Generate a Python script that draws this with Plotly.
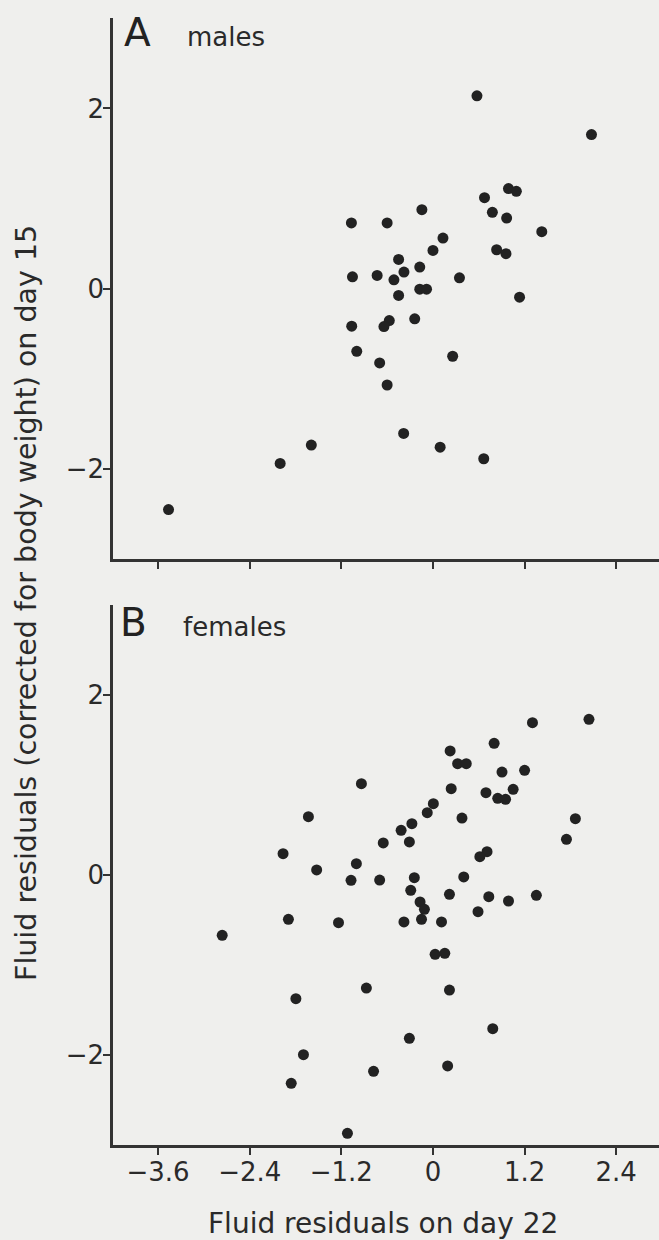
import plotly.graph_objects as go

# ---------------- data ----------------
males_x = [0.576, 2.076, 0.989, 1.092, 0.675, -0.145, 0.778, 0.965, -1.068, -0.600,
           1.425, 0.131, 0.000, 0.834, 0.956, -0.450, -0.173, -0.380, -1.054, -0.731,
           -0.511, 0.347, -0.173, -0.084, -0.450, 1.134, -1.064, -0.572, -0.642, -0.239,
           -0.998, 0.258, -0.698, -0.600, -0.384, -1.593, 0.094, 0.665, -2.001, -3.463]
males_y = [2.14, 1.711, 1.111, 1.081, 1.011, 0.878, 0.848, 0.785, 0.730, 0.730,
           0.633, 0.563, 0.426, 0.433, 0.389, 0.326, 0.241, 0.185, 0.133, 0.148,
           0.100, 0.122, -0.004, -0.004, -0.074, -0.093, -0.415, -0.352, -0.419, -0.333,
           -0.693, -0.748, -0.822, -1.067, -1.604, -1.733, -1.756, -1.885, -1.937, -2.448]

females_x = [2.043, 1.303, 0.801, 0.225, 0.323, 0.436, 0.904, 1.200, -0.937, 0.239,
             0.694, 1.050, 0.848, 0.951, 0.005, -0.075, -1.631, 0.380, 1.865, -0.276,
             -0.417, -0.309, -0.651, 1.748, -1.963, 0.708, 0.614, -1.003, -1.523, -1.073,
             -0.698, -0.244, 0.403, -0.291, 0.216, 0.731, 0.989, 1.354, -0.169, -0.112,
             0.590, -1.893, -1.237, -0.380, -0.150, 0.112, -2.760, 0.028, 0.155, -0.872,
             0.216, -1.795, 0.783, -0.309, -1.696, 0.192, -0.778, -1.856, -1.120]
females_y = [1.730, 1.693, 1.463, 1.378, 1.237, 1.237, 1.144, 1.163, 1.015, 0.959,
             0.915, 0.952, 0.852, 0.841, 0.793, 0.693, 0.648, 0.633, 0.626, 0.570,
             0.496, 0.367, 0.356, 0.396, 0.237, 0.259, 0.204, 0.126, 0.056, -0.059,
             -0.056, -0.030, -0.022, -0.170, -0.215, -0.241, -0.289, -0.226, -0.300, -0.381,
             -0.407, -0.493, -0.530, -0.522, -0.493, -0.522, -0.670, -0.881, -0.870, -1.256,
             -1.278, -1.374, -1.707, -1.815, -1.996, -2.122, -2.181, -2.315, -2.870]

x_ticks = [-3.6, -2.4, -1.2, 0, 1.2, 2.4]
x_ticklabels = ["\u22123.6", "\u22122.4", "\u22121.2", "0", "1.2", "2.4"]
y_ticks = [-2, 0, 2]
y_ticklabels = ["\u22122", "0", "2"]

x_title = "Fluid residuals on day 22"
y_title = "Fluid residuals (corrected for body weight) on day 15"
panel_letters = ["A", "B"]
panel_names = ["males", "females"]

# ---------------- layout helpers ----------------
W, H = 659, 1240
def px(xp):
    return xp / W
def py(yp):
    return (H - yp) / H

BG = "#efefed"
INK = "#222222"
FONT = "DejaVu Sans, Liberation Sans, Arial, sans-serif"
TICKFONT = dict(family=FONT, size=26, color="#2a2a2a")

fig = go.Figure()
fig.add_trace(go.Scatter(x=males_x, y=males_y, mode="markers",
                         marker=dict(size=11, color=INK), xaxis="x", yaxis="y",
                         showlegend=False, hoverinfo="skip"))
fig.add_trace(go.Scatter(x=females_x, y=females_y, mode="markers",
                         marker=dict(size=11, color=INK), xaxis="x2", yaxis="y2",
                         showlegend=False, hoverinfo="skip"))

xdom = [px(113), 1.0]
xr = [-4.19, 2.96]
yr = [-3.0, 3.0]

common_x = dict(range=xr, domain=xdom, tickmode="array", tickvals=x_ticks,
                ticks="outside", ticklen=7, tickwidth=2, tickcolor="#333",
                showline=True, linecolor="#333", linewidth=2.5, showgrid=False,
                zeroline=False, fixedrange=True)
common_y = dict(range=yr, tickmode="array", tickvals=y_ticks, ticktext=y_ticklabels,
                ticks="outside", ticklen=7, tickwidth=2, tickcolor="#333",
                showline=True, linecolor="#333", linewidth=2.5, showgrid=False,
                zeroline=False, tickfont=TICKFONT, fixedrange=True,
                ticklabelstandoff=-6)

fig.update_layout(
    width=W, height=H,
    margin=dict(l=0, r=0, t=0, b=0),
    paper_bgcolor=BG, plot_bgcolor=BG,
    xaxis=dict(common_x, anchor="y", showticklabels=False),
    yaxis=dict(common_y, anchor="x", domain=[py(559.3), py(18.3)]),
    xaxis2=dict(common_x, anchor="y2", ticktext=x_ticklabels, tickfont=TICKFONT,
                ticklabelstandoff=-5),
    yaxis2=dict(common_y, anchor="x2", domain=[py(1145), py(605)]),
)

ann = []
# axis titles
ann.append(dict(text=x_title, x=px(383), y=py(1223), xref="paper", yref="paper",
                xanchor="center", yanchor="middle", showarrow=False,
                font=dict(family=FONT, size=28, color="#2a2a2a")))
ann.append(dict(text=y_title, x=px(26), y=py(603), xref="paper", yref="paper",
                xanchor="center", yanchor="middle", textangle=-90, showarrow=False,
                font=dict(family=FONT, size=28.5, color="#2a2a2a")))
# panel labels
for letter, name, lx, nx, cy, ny in [(panel_letters[0], panel_names[0], 121.5, 185, 32.5, 37),
                                     (panel_letters[1], panel_names[1], 118, 181, 622.5, 627)]:
    ann.append(dict(text=letter, x=px(lx), y=py(cy), xref="paper", yref="paper",
                    xanchor="left", yanchor="middle", showarrow=False,
                    font=dict(family=FONT, size=39, color="#222")))
    ann.append(dict(text=name, x=px(nx), y=py(ny), xref="paper", yref="paper",
                    xanchor="left", yanchor="middle", showarrow=False,
                    font=dict(family=FONT, size=26, color="#2a2a2a")))
fig.update_layout(annotations=ann)

fig.write_html("out.html", config={"displayModeBar": False},
               post_script="document.body.style.margin='0';")
